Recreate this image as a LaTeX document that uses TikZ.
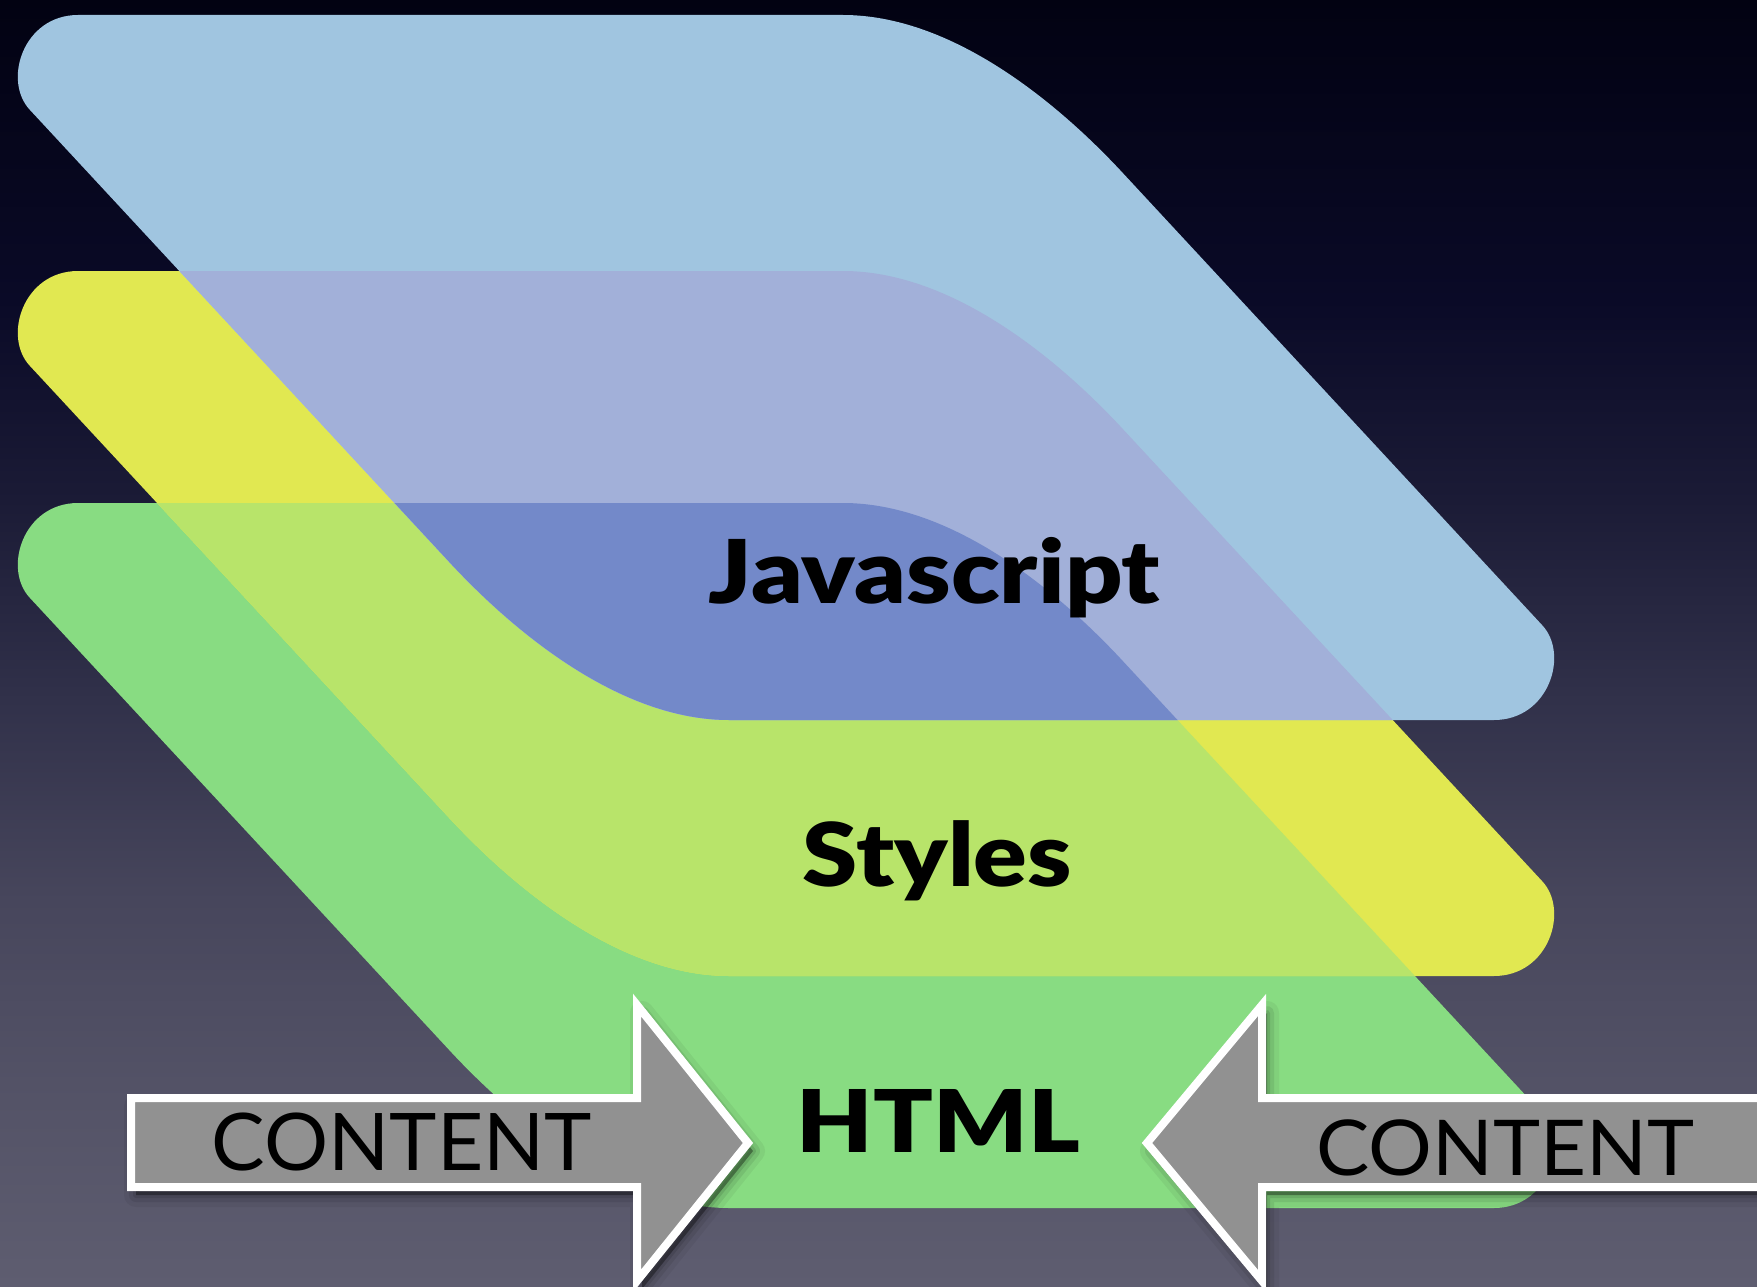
\documentclass[tikz,border=0pt]{standalone}
\usepackage{fontspec}
\setmainfont{Lato}
\newfontfamily\heavyfont{Lato Black}
\usepackage{graphicx}
\definecolor{bluel}{HTML}{A0C5E0}
\definecolor{lav}{HTML}{A2B0D9}
\definecolor{dblue}{HTML}{7389C9}
\definecolor{yel}{HTML}{E1E851}
\definecolor{ygreen}{HTML}{B8E46A}
\definecolor{grn}{HTML}{88DC82}
\definecolor{arrgray}{HTML}{919191}
\definecolor{bg0}{HTML}{5E5D70}
\definecolor{bg1}{HTML}{545367}
\definecolor{bg2}{HTML}{47465C}
\definecolor{bg3}{HTML}{31314A}
\definecolor{bg4}{HTML}{1B1B36}
\definecolor{bg5}{HTML}{0A0A27}
\definecolor{bg6}{HTML}{020212}
\pgfdeclareverticalshading{bgshade}{100bp}{color(0bp)=(bg0); color(25bp)=(bg0); color(32.27bp)=(bg1); color(40.03bp)=(bg2); color(47.8bp)=(bg3); color(55.57bp)=(bg4); color(63.35bp)=(bg5); color(75bp)=(bg6); color(100bp)=(bg6)}
\newcommand\lbltext[3]{\resizebox{#1}{\height}{\fontsize{#2}{#2}\selectfont #3}}
\def\layer{(78,15) -- (843,15) .. controls (953,15) and (1058.5,104.3) .. (1120,170) -- (1542,625) .. controls (1569.6,654) and (1549,720) .. (1494,720) -- (729,720) .. controls (619,720) and (513.5,630.7) .. (452,565) -- (30,110) .. controls (2.4,81) and (23,15) .. (78,15) -- cycle}
\def\larrow{(131,1098) -- (637,1098) -- (637,1005) -- (748,1143) -- (637,1281) -- (637,1187) -- (131,1187) -- cycle}
\def\rarrow{(1800,1098) -- (1262,1098) -- (1262,1005) -- (1147,1143) -- (1262,1281) -- (1262,1187) -- (1800,1187) -- cycle}
\tikzset{
  lbl/.style={inner sep=0pt, anchor=base, text=black},
  arrowbody/.style={draw=white, line width=8pt, fill=arrgray, line join=miter},
  shadowfill/.style={fill=black, opacity=0.35, shift={(5,8)}},
  shadowhalo/.style={draw=black, opacity=#1, shift={(5,8)}, line join=round}
}
\begin{document}
\begin{tikzpicture}[x=1pt,y=-1pt]
\useasboundingbox (0,0) rectangle (1757,1287);
\shade[shading=bgshade] (0,0) rectangle (1757,1287);
% layers
\fill[grn, shift={(0,488)}] \layer;
\fill[yel, shift={(0,256)}] \layer;
\begin{scope}
  \clip[shift={(0,256)}] \layer;
  \fill[ygreen, shift={(0,488)}] \layer;
\end{scope}
\fill[bluel] \layer;
\begin{scope}
  \clip \layer;
  \fill[lav, shift={(0,256)}] \layer;
  \fill[dblue, shift={(0,488)}] \layer;
\end{scope}
% labels on layers
\node[lbl] (js) at (934.5,603) {\lbltext{451pt}{88}{\heavyfont Javascript}};
\node[lbl] (sty) at (937.5,886) {\lbltext{269pt}{88}{\heavyfont Styles}};
\node[lbl] (html) at (938.5,1152) {\lbltext{283pt}{86.5}{\heavyfont HTML}};
% arrows with shadows
\path[shadowhalo=0.05, line width=24pt] \larrow;
\path[shadowhalo=0.08, line width=14pt] \larrow;
\path[shadowhalo=0.10, line width=6pt] \larrow;
\path[shadowfill] \larrow;
\path[arrowbody] \larrow;
\path[shadowhalo=0.05, line width=24pt] \rarrow;
\path[shadowhalo=0.08, line width=14pt] \rarrow;
\path[shadowhalo=0.10, line width=6pt] \rarrow;
\path[shadowfill] \rarrow;
\path[arrowbody] \rarrow;
\node[lbl] (cl) at (402,1170) {\lbltext{380pt}{79.5}{CONTENT}};
\node[lbl] (cr) at (1505,1175) {\lbltext{378pt}{77}{CONTENT}};
\end{tikzpicture}
\end{document}
